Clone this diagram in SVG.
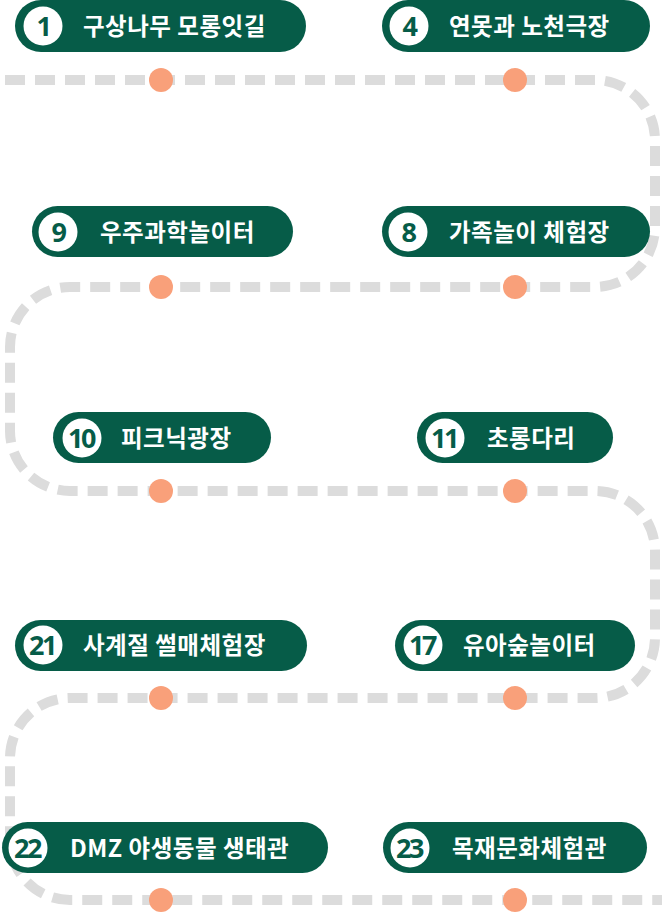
<svg xmlns="http://www.w3.org/2000/svg" width="662" height="914" viewBox="0 0 662 914">
<style>
.pill{fill:#065c48}
.badge{fill:#ffffff}
.num{fill:#065c48;font-family:"Noto Sans","DejaVu Sans",sans-serif;font-weight:700;font-size:27px;text-anchor:middle;letter-spacing:-2.5px}
.lbl{fill:#ffffff;font-family:"Noto Sans CJK KR","Noto Sans",sans-serif;font-weight:700;font-size:23.5px;letter-spacing:0.5px}
.dot{fill:#f9a07a}
.route{fill:none;stroke:#dcdcdc;stroke-width:10;stroke-dasharray:20 10}
</style>
<rect width="662" height="914" fill="#ffffff"/>
<g id="connectors">
<path class="route" d="M5 80 H595 A60 60 0 0 1 655 140 V227 A60 60 0 0 1 595 287 H70 A60 60 0 0 0 10 347 V431 A60 60 0 0 0 70 491 H595 A60 60 0 0 1 655 551 V638 A60 60 0 0 1 595 698 H70 A60 60 0 0 0 10 758 V840 A60 60 0 0 0 70 900 H662"/>
</g>
<g id="dots">
<circle class="dot" cx="161" cy="80" r="12"/>
<circle class="dot" cx="515" cy="80" r="12"/>
<circle class="dot" cx="161" cy="287" r="12"/>
<circle class="dot" cx="515" cy="287" r="12"/>
<circle class="dot" cx="161" cy="491" r="12"/>
<circle class="dot" cx="515" cy="491" r="12"/>
<circle class="dot" cx="161" cy="698" r="12"/>
<circle class="dot" cx="515" cy="698" r="12"/>
<circle class="dot" cx="161" cy="900" r="12"/>
<circle class="dot" cx="515" cy="900" r="12"/>
</g>
<g id="node-1">
<rect class="pill" x="15" y="0" width="291" height="52" rx="26"/>
<circle class="badge" cx="43" cy="26" r="19.5"/>
<text class="num" x="43" y="35.5">1</text>
<text class="lbl" x="83" y="35">구상나무 모롱잇길</text>
</g>
<g id="node-4">
<rect class="pill" x="382" y="0" width="268" height="52" rx="26"/>
<circle class="badge" cx="409" cy="26" r="19.5"/>
<text class="num" x="409" y="35.5">4</text>
<text class="lbl" x="449" y="35">연못과 노천극장</text>
</g>
<g id="node-9">
<rect class="pill" x="32" y="206" width="261" height="51" rx="25.5"/>
<circle class="badge" cx="58" cy="232" r="19.5"/>
<text class="num" x="58" y="241.5">9</text>
<text class="lbl" x="100" y="241">우주과학놀이터</text>
</g>
<g id="node-8">
<rect class="pill" x="382" y="206" width="268" height="51" rx="25.5"/>
<circle class="badge" cx="408" cy="232" r="19.5"/>
<text class="num" x="408" y="241.5">8</text>
<text class="lbl" x="449" y="241">가족놀이 체험장</text>
</g>
<g id="node-10">
<rect class="pill" x="53" y="412" width="218" height="51" rx="25.5"/>
<circle class="badge" cx="82" cy="438" r="19.5"/>
<text class="num" x="81" y="447.5">10</text>
<text class="lbl" x="121" y="447">피크닉광장</text>
</g>
<g id="node-11">
<rect class="pill" x="417" y="412" width="196" height="51" rx="25.5"/>
<circle class="badge" cx="445" cy="438" r="19.5"/>
<text class="num" x="444" y="447.5">11</text>
<text class="lbl" x="487" y="447">초롱다리</text>
</g>
<g id="node-21">
<rect class="pill" x="15" y="620" width="292" height="51" rx="25.5"/>
<circle class="badge" cx="43" cy="645" r="19.5"/>
<text class="num" x="42" y="654.5">21</text>
<text class="lbl" x="83" y="654">사계절 썰매체험장</text>
</g>
<g id="node-17">
<rect class="pill" x="395" y="620" width="240" height="51" rx="25.5"/>
<circle class="badge" cx="423" cy="645" r="19.5"/>
<text class="num" x="422" y="654.5">17</text>
<text class="lbl" x="463" y="654">유아숲놀이터</text>
</g>
<g id="node-22">
<rect class="pill" x="2" y="822" width="326" height="51" rx="25.5"/>
<circle class="badge" cx="28" cy="848" r="19.5"/>
<text class="num" x="27" y="857.5">22</text>
<text class="lbl" x="70" y="857">DMZ 야생동물 생태관</text>
</g>
<g id="node-23">
<rect class="pill" x="383" y="822" width="264" height="51" rx="25.5"/>
<circle class="badge" cx="410" cy="848" r="19.5"/>
<text class="num" x="409" y="857.5">23</text>
<text class="lbl" x="452" y="857">목재문화체험관</text>
</g>
</svg>
